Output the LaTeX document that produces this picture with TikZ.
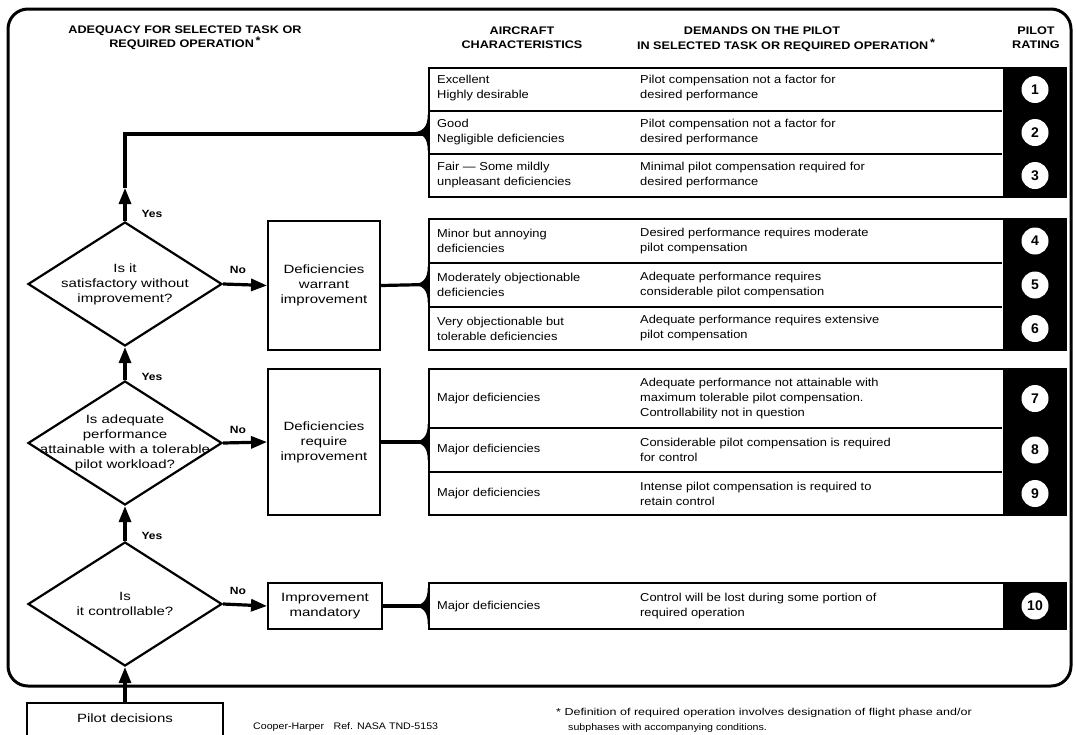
\documentclass[tikz,border=0pt]{standalone}
\usepackage{fontspec}
\setmainfont{Liberation Sans}
\newfontfamily\bodyfam[FakeStretch=1.12]{Liberation Sans}
\newfontfamily\wideFam[FakeStretch=1.25]{Liberation Sans}
\newfontfamily\hdfam[FakeStretch=1.15]{Liberation Sans}
\usetikzlibrary{arrows.meta,shapes.geometric,calc}
\newcommand\rowfont{\bodyfam\fontsize{11.5}{15}\selectfont}
\newcommand\diafont{\wideFam\fontsize{12}{15}\selectfont}
\newcommand\hdfont{\hdfam\fontsize{11}{14}\selectfont\bfseries}
\newcommand\junction[1]{\fill ($(#1.west)+(-18,0)$) .. controls ($(#1.west)+(-5,0)$) and ($(#1.west)+(0,-5)$) .. ($(#1.west)+(0,-18)$) -- ($(#1.west)+(0,18)$) .. controls ($(#1.west)+(0,5)$) and ($(#1.west)+(-5,0)$) .. cycle;}
\begin{document}
\begin{tikzpicture}[x=1pt,y=-1pt,font=\rowfont,
  gbox/.style={draw,line width=2.5,rectangle,inner sep=0,minimum width=637},
  sep/.style={line width=2},
  cell/.style={anchor=west,align=left,inner sep=0},
  dia/.style={draw,diamond,line width=2.2,inner sep=0,minimum width=194,minimum height=124},
  box/.style={draw,rectangle,line width=2,inner sep=0,align=center,font=\diafont},
  conn/.style={line width=3.2},
  arr/.style={conn,-{Triangle[length=16,width=12]}},
  num/.style={circle,fill=white,minimum size=27,inner sep=0,font=\fontsize{14}{14}\selectfont\bfseries},
  lbl/.style={font=\hdfam\fontsize{10.5}{12}\selectfont\bfseries,inner sep=0},
  hd/.style={font=\hdfont,align=center,inner sep=0},
  ft/.style={font=\bodyfam\fontsize{9.5}{13}\selectfont,anchor=west,inner sep=0}]
\useasboundingbox (0,0) rectangle (1076,734);
\fill[white] (0,0) rectangle (1076,734);
% frame
\draw[line width=3,rounded corners=20] (8,9) rectangle (1071,686);
% headers
\node[hd] (h1) at (185,38) {ADEQUACY FOR SELECTED TASK OR\\REQUIRED OPERATION\,\raisebox{3pt}{*}};
\node[hd] (h2) at (522,38) {AIRCRAFT\\CHARACTERISTICS};
\node[hd] (h3a) at (762,31) {DEMANDS ON THE PILOT};
\node[hd] (h3b) at (786,45) {IN SELECTED TASK OR REQUIRED OPERATION\,\raisebox{3pt}{*}};
\node[hd] (h4) at (1036,38) {PILOT\\RATING};
% group 1
\node[gbox,minimum height=129] (g1) at (747.5,132.5) {};
\fill ([xshift=-64]g1.north east) rectangle (g1.south east);
\draw[sep] (429,111) -- (1002,111);
\draw[sep] (429,154) -- (1002,154);
\node[cell] (c1) at (437,88) {Excellent\\Highly desirable};
\node[cell] (p1) at (640,88) {Pilot compensation not a factor for\\desired performance};
\node[cell] (c2) at (437,132) {Good\\Negligible deficiencies};
\node[cell] (p2) at (640,132) {Pilot compensation not a factor for\\desired performance};
\node[cell] (c3) at (437,175) {Fair — Some mildly\\unpleasant deficiencies};
\node[cell] (p3) at (640,175) {Minimal pilot compensation required for\\desired performance};
\node[num] (n1) at (1035,89.5) {1};
\node[num] (n2) at (1035,132.5) {2};
\node[num] (n3) at (1035,175.5) {3};
% group 2
\node[gbox,minimum height=131] (g2) at (747.5,284.5) {};
\fill ([xshift=-64]g2.north east) rectangle (g2.south east);
\draw[sep] (429,263) -- (1002,263);
\draw[sep] (429,307) -- (1002,307);
\node[cell] (c4) at (437,241) {Minor but annoying\\deficiencies};
\node[cell] (p4) at (640,241) {Desired performance requires moderate\\pilot compensation};
\node[cell] (c5) at (437,285) {Moderately objectionable\\deficiencies};
\node[cell] (p5) at (640,285) {Adequate performance requires\\considerable pilot compensation};
\node[cell] (c6) at (437,328.5) {Very objectionable but\\tolerable deficiencies};
\node[cell] (p6) at (640,328.5) {Adequate performance requires extensive\\pilot compensation};
\node[num] (n4) at (1035,241) {4};
\node[num] (n5) at (1035,285) {5};
\node[num] (n6) at (1035,328.5) {6};
% group 3
\node[gbox,minimum height=146] (g3) at (747.5,442) {};
\fill ([xshift=-64]g3.north east) rectangle (g3.south east);
\draw[sep] (429,428) -- (1002,428);
\draw[sep] (429,472) -- (1002,472);
\node[cell] (c7) at (437,398.5) {Major deficiencies};
\node[cell] (p7) at (640,398.5) {Adequate performance not attainable with\\maximum tolerable pilot compensation.\\Controllability not in question};
\node[cell] (c8) at (437,450) {Major deficiencies};
\node[cell] (p8) at (640,450) {Considerable pilot compensation is required\\for control};
\node[cell] (c9) at (437,493.5) {Major deficiencies};
\node[cell] (p9) at (640,493.5) {Intense pilot compensation is required to\\retain control};
\node[num] (n7) at (1035,398.5) {7};
\node[num] (n8) at (1035,450) {8};
\node[num] (n9) at (1035,493.5) {9};
% group 4
\node[gbox,minimum height=46] (g4) at (747.5,606) {};
\fill ([xshift=-64]g4.north east) rectangle (g4.south east);
\node[cell] (c10) at (437,607) {Major deficiencies};
\node[cell] (p10) at (640,606) {Control will be lost during some portion of\\required operation};
\node[num] (n10) at (1035,606) {10};
% decision diamonds
\node[dia] (d1) at (125,284) {};
\node[align=center,inner sep=0,font=\diafont] (t1) at (d1.center) {Is it\\satisfactory without\\improvement?};
\node[dia] (d2) at (125,443) {};
\node[align=center,inner sep=0,font=\diafont] (t2) at (d2.center) {Is adequate\\performance\\attainable with a tolerable\\pilot workload?};
\node[dia] (d3) at (125,604) {};
\node[align=center,inner sep=0,font=\diafont] (t3) at (d3.center) {Is\\it controllable?};
% boxes
\node[box,minimum width=112,minimum height=129] (bw) at (324,285.5) {Deficiencies\\warrant\\improvement};
\node[box,minimum width=112,minimum height=146] (br) at (324,442) {Deficiencies\\require\\improvement};
\node[box,minimum width=114,minimum height=46] (bm) at (325,606) {Improvement\\mandatory};
\node[box,minimum width=196,minimum height=60,anchor=north] (pd) at (125,702) {};
\node[inner sep=0,font=\diafont] (pdt) at (125,718) {Pilot decisions};
% connectors
\coordinate (tip1) at (125,188);
\coordinate (corner1) at (125,134);
\draw[arr] (d1.north) -- (tip1);
\draw[conn] (tip1) -- (corner1) -- (corner1 -| g1.west);
\junction{g1}
\draw[arr] (d1.east) -- (bw.west);
\draw[arr] (d2.east) -- (br.west);
\draw[arr] (d3.east) -- (bm.west);
\draw[arr] (d2.north) -- (d1.south);
\draw[arr] (d3.north) -- (d2.south);
\draw[arr] (pd.north) -- (d3.south);
\draw[conn] (bw.east) -- (g2.west);
\junction{g2}
\draw[conn] (br.east) -- (g3.west);
\junction{g3}
\draw[conn] (bm.east) -- (g4.west);
\junction{g4}
% labels
\node[lbl] (y1) at (152,214) {Yes};
\node[lbl] (y2) at (152,377) {Yes};
\node[lbl] (y3) at (152,536) {Yes};
\node[lbl] (no1) at (238,270) {No};
\node[lbl] (no2) at (238,430) {No};
\node[lbl] (no3) at (238,591) {No};
% footer
\node[ft] (f1) at (253,727) {Cooper-Harper\quad Ref. NASA TND-5153};
\node[ft,font=\wideFam\fontsize{10}{13}\selectfont] (f2) at (556,713) {* Definition of required operation involves designation of flight phase and/or};
\node[ft] (f3) at (568,728) {subphases with accompanying conditions.};
\end{tikzpicture}
\end{document}
